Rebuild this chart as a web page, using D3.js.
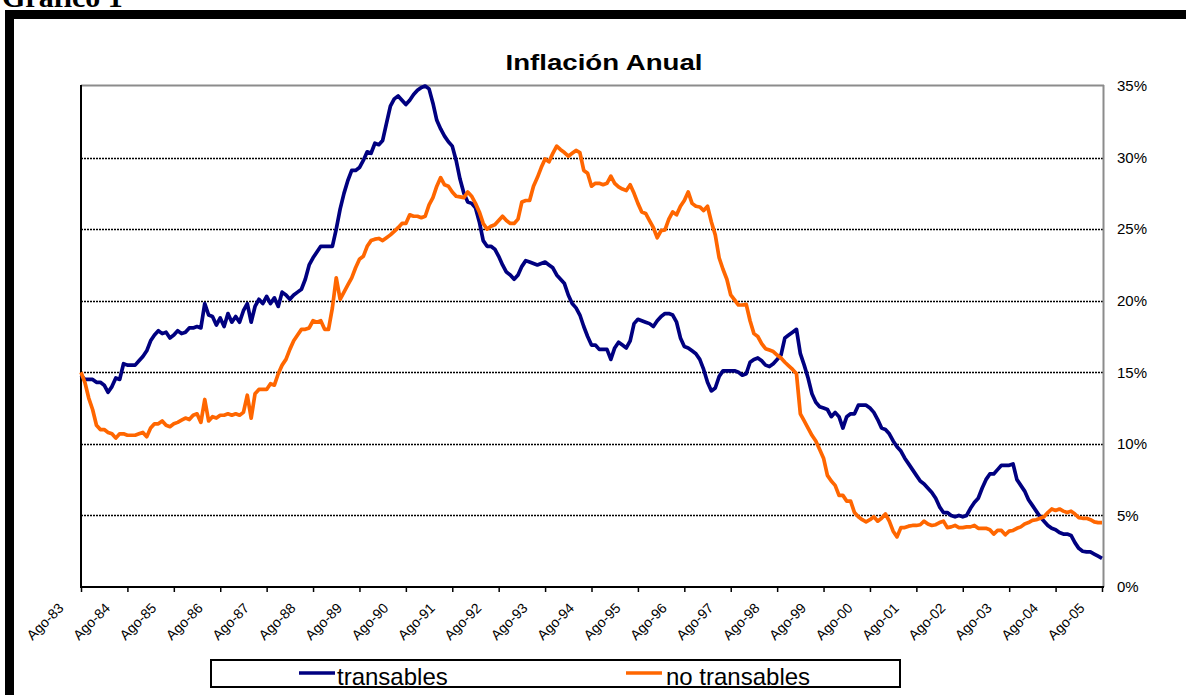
<!DOCTYPE html>
<html>
<head>
<meta charset="utf-8">
<script src="https://cdnjs.cloudflare.com/ajax/libs/d3/7.8.5/d3.min.js"></script>
<style>
  html, body { margin: 0; padding: 0; background: #ffffff; overflow: hidden; }
  svg { display: block; }
</style>
</head>
<body>
<svg id="chart" width="1186" height="695"></svg>
<script>
// ---------------- DATA ----------------
const title = "Inflación Anual";
const heading = "Gráfico 1";
const seriesNames = ["transables", "no transables"];
const tickLabels = ["Ago-83","Ago-84","Ago-85","Ago-86","Ago-87","Ago-88","Ago-89","Ago-90",
  "Ago-91","Ago-92","Ago-93","Ago-94","Ago-95","Ago-96","Ago-97","Ago-98","Ago-99",
  "Ago-00","Ago-01","Ago-02","Ago-03","Ago-04","Ago-05"];
const yTicks = [0, 0.05, 0.10, 0.15, 0.20, 0.25, 0.30, 0.35];

// monthly annual inflation, %, Aug-1983 .. Aug-2005
const transables = [
14.8,14.5,14.5,14.5,14.3,14.3,14.1,13.6,14.0,14.6,14.5,15.6,15.5,15.5,15.5,15.8,16.1,16.5,17.2,17.6,
17.9,17.7,17.8,17.4,17.6,17.9,17.7,17.8,18.1,18.1,18.2,18.1,19.8,19.0,18.9,18.3,18.8,18.2,19.1,18.5,
18.9,18.5,19.3,19.8,18.5,19.6,20.1,19.8,20.3,19.8,20.2,19.6,20.6,20.4,20.1,20.4,20.6,20.8,21.5,22.5,
23.0,23.4,23.8,23.8,23.8,23.8,25.0,26.4,27.5,28.4,29.1,29.1,29.3,29.8,30.4,30.3,31.0,30.9,31.2,32.4,
33.6,34.1,34.3,34.0,33.7,34.0,34.4,34.7,34.9,35.0,34.8,33.8,32.6,32.0,31.5,31.1,30.8,29.8,28.5,27.5,
26.9,26.8,26.5,25.5,24.2,23.8,23.8,23.6,23.1,22.5,22.0,21.8,21.5,21.8,22.4,22.8,22.7,22.6,22.5,22.6,
22.7,22.5,22.3,21.8,21.5,21.2,20.4,19.8,19.5,19.0,18.2,17.5,16.9,16.9,16.6,16.6,16.6,15.9,16.7,17.1,
16.9,16.7,17.2,18.4,18.7,18.6,18.5,18.4,18.2,18.6,18.9,19.1,19.1,19.0,18.5,17.4,16.8,16.7,16.5,16.3,
15.9,15.2,14.3,13.7,13.9,14.7,15.1,15.1,15.1,15.1,15.0,14.8,14.9,15.7,15.9,16.0,15.8,15.5,15.4,15.6,
15.9,16.2,17.4,17.6,17.8,18.0,16.3,15.5,14.6,13.5,12.9,12.6,12.5,12.4,11.9,12.2,11.9,11.1,11.9,12.1,
12.1,12.7,12.7,12.7,12.5,12.2,11.7,11.1,11.0,10.7,10.2,9.8,9.5,9.0,8.6,8.2,7.8,7.4,7.2,6.9,
6.6,6.2,5.6,5.2,5.2,5.0,4.9,5.0,4.9,5.0,5.5,5.9,6.2,6.9,7.5,7.9,7.9,8.2,8.5,8.5,
8.5,8.6,7.5,7.1,6.7,6.1,5.7,5.3,4.9,4.6,4.3,4.1,4.0,3.8,3.7,3.7,3.6,3.1,2.7,2.5,
2.45,2.45,2.3,2.15,2.0
];
const noTransables = [
15.0,14.3,13.2,12.4,11.3,11.0,11.0,10.8,10.7,10.4,10.7,10.7,10.6,10.6,10.6,10.7,10.8,10.5,11.1,11.4,
11.4,11.6,11.3,11.2,11.4,11.5,11.65,11.8,11.7,12.0,12.1,11.5,13.1,11.6,11.9,11.8,12.0,12.0,12.1,12.0,
12.1,12.0,12.2,13.4,11.8,13.5,13.8,13.8,13.8,14.2,14.1,14.9,15.5,15.9,16.6,17.2,17.6,18.0,18.0,18.1,
18.6,18.5,18.6,18.0,18.0,19.5,21.6,20.1,20.6,21.1,21.6,22.3,22.9,23.1,23.8,24.2,24.3,24.35,24.2,24.4,
24.6,24.85,25.1,25.4,25.4,26.0,25.9,25.9,25.8,25.9,26.7,27.2,28.0,28.6,28.1,28.0,27.6,27.3,27.25,27.2,
27.6,27.3,26.8,26.2,25.4,25.0,25.2,25.3,25.6,25.9,25.6,25.4,25.4,25.7,26.9,27.0,27.0,28.0,28.6,29.3,
29.9,29.7,30.3,30.8,30.55,30.35,30.1,30.3,30.5,30.35,29.1,28.9,28.0,28.2,28.2,28.1,28.2,28.7,28.2,27.95,
27.8,27.7,28.1,27.5,26.8,26.2,26.1,25.6,25.1,24.4,24.9,24.95,25.7,26.2,26.0,26.6,27.0,27.6,26.8,26.6,
26.55,26.3,26.6,25.5,24.6,23.0,22.2,21.5,20.4,20.05,19.7,19.7,19.75,18.6,17.7,17.5,17.0,16.65,16.55,16.45,
16.2,16.0,15.7,15.45,15.2,14.9,12.1,11.6,11.1,10.6,10.2,9.6,9.0,7.8,7.4,7.1,6.4,6.4,6.0,6.0,
5.2,4.9,4.7,4.55,4.7,4.9,4.6,4.8,5.1,4.6,3.9,3.5,4.15,4.15,4.25,4.3,4.3,4.35,4.6,4.4,
4.3,4.35,4.5,4.6,4.15,4.2,4.3,4.15,4.15,4.2,4.2,4.3,4.1,4.1,4.1,4.0,3.7,3.95,3.95,3.65,
3.9,3.95,4.1,4.2,4.4,4.5,4.65,4.7,4.8,4.9,5.2,5.45,5.35,5.45,5.3,5.2,5.3,5.1,4.85,4.8,
4.8,4.7,4.55,4.5,4.5
];
const seriesColors = ["#000080", "#FF6600"];

// ---------------- CHART ----------------
const svg = d3.select("#chart");
const plot = { left: 81, right: 1103, top: 86, bottom: 587 };
const FONT = "'Liberation Sans', Arial, sans-serif";

const nMonths = transables.length;
const x = d3.scaleLinear().domain([0, nMonths - 1]).range([plot.left, plot.right - 1]);
const y = d3.scaleLinear().domain([0, 0.35]).range([plot.bottom, plot.top]);

// heading (partly cut at top, as in the source page)
svg.append("text")
  .attr("x", 2).attr("y", 7)
  .attr("font-family", "'Liberation Serif', 'Times New Roman', serif")
  .attr("font-weight", "bold").attr("font-size", 30)
  .attr("fill", "#000").text(heading);

// thick black frame
svg.append("rect")
  .attr("x", 9.5).attr("y", 14.5)
  .attr("width", 1300).attr("height", 800)
  .attr("fill", "none").attr("stroke", "#000").attr("stroke-width", 9);

// title
svg.append("text")
  .attr("x", 604).attr("y", 70)
  .attr("text-anchor", "middle")
  .attr("font-family", FONT)
  .attr("font-weight", "bold").attr("font-size", 22)
  .attr("textLength", 197).attr("lengthAdjust", "spacingAndGlyphs")
  .attr("fill", "#000").text(title);

// gridlines
svg.append("g").selectAll("line")
  .data(yTicks.filter(t => t > 0 && t < 0.35))
  .join("line")
  .attr("x1", plot.left).attr("x2", plot.right)
  .attr("y1", d => Math.round(y(d)) + 0.5).attr("y2", d => Math.round(y(d)) + 0.5)
  .attr("stroke", "#000").attr("stroke-width", 1.3)
  .attr("stroke-dasharray", "2,1");

// plot border: top and right gray
svg.append("line")
  .attr("x1", plot.left).attr("x2", plot.right + 1)
  .attr("y1", plot.top - 0.5).attr("y2", plot.top - 0.5)
  .attr("stroke", "#8c8c8c").attr("stroke-width", 2);
svg.append("line")
  .attr("x1", plot.right + 0.5).attr("x2", plot.right + 0.5)
  .attr("y1", plot.top - 1).attr("y2", plot.bottom)
  .attr("stroke", "#8c8c8c").attr("stroke-width", 2);

// left black line
svg.append("line")
  .attr("x1", plot.left).attr("x2", plot.left)
  .attr("y1", plot.top - 1).attr("y2", plot.bottom + 1)
  .attr("stroke", "#000").attr("stroke-width", 2);

// right value axis labels
const yAxis = d3.axisRight(y).tickValues(yTicks).tickSize(0).tickPadding(14)
  .tickFormat(d3.format(".0%"));
const gy = svg.append("g").attr("transform", `translate(${plot.right},0)`).call(yAxis);
gy.select(".domain").remove();
gy.selectAll("text")
  .attr("font-family", FONT)
  .attr("font-size", 15).attr("fill", "#000");

// x axis (category ticks each August)
const tickIdx = tickLabels.map((_, i) => i * 12);
const xAxis = d3.axisBottom(x).tickValues(tickIdx).tickSize(5)
  .tickFormat((d, i) => tickLabels[i]);
const gx = svg.append("g").attr("transform", `translate(0,${plot.bottom})`).call(xAxis);
gx.select(".domain").attr("stroke", "#000").attr("stroke-width", 2)
  .attr("d", `M${plot.left},0H${plot.right + 1}`);
gx.selectAll(".tick line").attr("stroke", "#000").attr("stroke-width", 1.5);
gx.selectAll(".tick text")
  .attr("font-family", FONT)
  .attr("font-size", 14).attr("fill", "#000")
  .attr("text-anchor", "end")
  .attr("dy", 0).attr("y", 0)
  .attr("transform", "translate(-17,22) rotate(-45)");

// lines
const lineGen = d3.line()
  .x((d, i) => x(i))
  .y(d => y(d / 100));

const seriesData = [transables, noTransables];
svg.append("g").selectAll("path")
  .data(seriesData)
  .join("path")
  .attr("d", d => lineGen(d))
  .attr("fill", "none")
  .attr("stroke", (d, i) => seriesColors[i])
  .attr("stroke-width", 3.7)
  .attr("stroke-linejoin", "round")
  .attr("stroke-linecap", "butt");

// legend
const legend = svg.append("g");
legend.append("rect")
  .attr("x", 211).attr("y", 660)
  .attr("width", 689).attr("height", 27)
  .attr("fill", "#fff").attr("stroke", "#000").attr("stroke-width", 2);
const legendItems = [
  { name: seriesNames[0], color: seriesColors[0], lx: 299, tx: 337 },
  { name: seriesNames[1], color: seriesColors[1], lx: 626, tx: 666 }
];
legendItems.forEach(it => {
  legend.append("line")
    .attr("x1", it.lx).attr("x2", it.lx + 36)
    .attr("y1", 673).attr("y2", 673)
    .attr("stroke", it.color).attr("stroke-width", 3.7);
  legend.append("text")
    .attr("x", it.tx).attr("y", 685)
    .attr("font-family", FONT)
    .attr("font-size", 24).attr("fill", "#000")
    .text(it.name);
});
</script>
</body>
</html>
